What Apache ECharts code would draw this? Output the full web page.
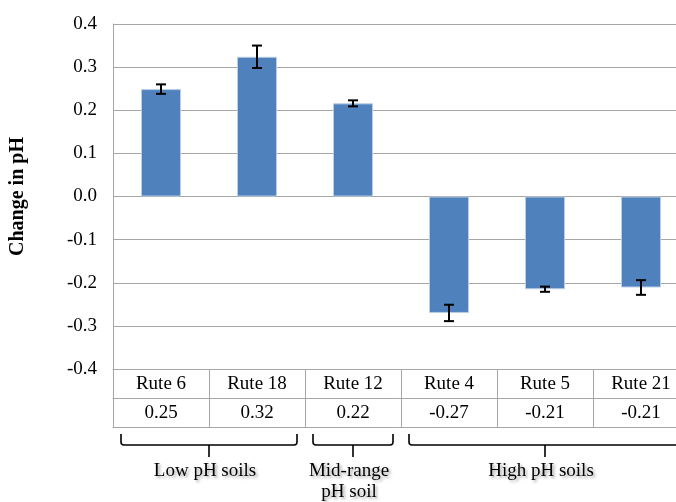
<!DOCTYPE html>
<html>
<head>
<meta charset="utf-8">
<script src="https://cdn.jsdelivr.net/npm/echarts@6/dist/echarts.min.js"></script>
<style>html,body{margin:0;padding:0;background:#fff;}#c{width:676px;height:502px;}</style>
</head>
<body>
<div id="c"></div>
<script>
var categories = ['Rute 6', 'Rute 18', 'Rute 12', 'Rute 4', 'Rute 5', 'Rute 21'];
var values = [0.249, 0.324, 0.216, -0.270, -0.215, -0.211];
var errors = [0.011, 0.026, 0.007, 0.019, 0.006, 0.017];
var tableLabels = ['0.25', '0.32', '0.22', '-0.27', '-0.21', '-0.21'];
var groups = [
  { start: 0, end: 1, name: 'Low pH soils' },
  { start: 2, end: 2, name: 'Mid-range\npH soil' },
  { start: 3, end: 5, name: 'High pH soils' }
];
var yTicks = { min: -0.4, max: 0.4, interval: 0.1 };

var SERIF = '"Liberation Serif","Times New Roman",serif';
var GRAY = '#a6a6a6';
var FS = 19;

var chart = echarts.init(document.getElementById('c'), null, { renderer: 'canvas' });

var errData = values.map(function (v, i) { return [i, v - errors[i], v + errors[i]]; });
var groupData = groups.map(function (g) { return [g.start, g.end, yTicks.min, g.name]; });

function xAxisBase(offset) {
  return {
    type: 'category',
    data: categories,
    position: 'bottom',
    offset: offset,
    boundaryGap: true,
    axisLine: { show: true, onZero: false, lineStyle: { color: GRAY, width: 1 } },
    axisTick: { show: false },
    axisLabel: { show: false },
    splitLine: { show: false }
  };
}

var ax0 = xAxisBase(0);
ax0.axisTick = { show: true, length: 58, lineStyle: { color: GRAY, width: 1 } };
ax0.axisLabel = { show: true, interval: 0, margin: 5, color: '#000', fontFamily: SERIF, fontSize: FS, lineHeight: 20 };
var ax1 = xAxisBase(29);
ax1.axisLabel = { show: true, interval: 0, margin: 5, color: '#000', fontFamily: SERIF, fontSize: FS, lineHeight: 20,
  formatter: function (v, i) { return tableLabels[i]; } };
var ax2 = xAxisBase(58);

var option = {
  animation: false,
  backgroundColor: '#fff',
  grid: { left: 113, width: 576, top: 24, bottom: 133, containLabel: false, outerBoundsMode: 'none' },
  xAxis: [ax0, ax1, ax2],
  yAxis: {
    type: 'value',
    min: yTicks.min, max: yTicks.max, interval: yTicks.interval,
    name: 'Change in pH',
    nameLocation: 'middle',
    nameGap: 85,
    nameRotate: 90,
    nameTextStyle: { fontFamily: SERIF, fontWeight: 'bold', fontSize: 20, color: '#000' },
    axisLine: { show: true, lineStyle: { color: GRAY, width: 1 } },
    axisTick: { show: false },
    axisLabel: { margin: 16, color: '#000', fontFamily: SERIF, fontSize: FS,
      formatter: function (v) { return v.toFixed(1); } },
    splitLine: { show: true, lineStyle: { color: GRAY, width: 1 } }
  },
  series: [
    {
      type: 'bar',
      xAxisIndex: 0,
      data: values,
      barWidth: 40,
      itemStyle: { color: '#4f81bd', borderColor: '#b9cde5', borderWidth: 1 }
    },
    {
      type: 'custom',
      xAxisIndex: 0,
      data: errData,
      encode: { x: 0, y: [1, 2] },
      z: 5,
      renderItem: function (params, api) {
        var x = api.coord([api.value(0), api.value(1)])[0];
        var yLo = api.coord([api.value(0), api.value(1)])[1];
        var yHi = api.coord([api.value(0), api.value(2)])[1];
        var hw = 5;
        var st = { stroke: '#000', lineWidth: 2 };
        return {
          type: 'group',
          children: [
            { type: 'line', shape: { x1: x, y1: yLo, x2: x, y2: yHi }, style: st },
            { type: 'line', shape: { x1: x - hw, y1: yLo, x2: x + hw, y2: yLo }, style: st },
            { type: 'line', shape: { x1: x - hw, y1: yHi, x2: x + hw, y2: yHi }, style: st }
          ]
        };
      }
    },
    {
      type: 'custom',
      xAxisIndex: 0,
      data: groupData,
      encode: { x: [0, 1], y: 2 },
      clip: false,
      renderItem: function (params, api) {
        var band = api.size([1, 0])[0];
        var yBase = api.coord([api.value(0), api.value(2)])[1];
        var left = api.coord([api.value(0), api.value(2)])[0] - band / 2 + 8;
        var right = api.coord([api.value(1), api.value(2)])[0] + band / 2 - 8;
        var mid = (left + right) / 2;
        var top = yBase + 65, hy = yBase + 76, bot = yBase + 88;
        var r = 3;
        var path = 'M' + left + ',' + top + ' L' + left + ',' + (hy - r) +
          ' Q' + left + ',' + hy + ' ' + (left + r) + ',' + hy +
          ' L' + (right - r) + ',' + hy +
          ' Q' + right + ',' + hy + ' ' + right + ',' + (hy - r) +
          ' L' + right + ',' + top +
          ' M' + mid + ',' + hy + ' L' + mid + ',' + bot;
        var g = groups[params.dataIndex];
        return {
          type: 'group',
          children: [
            { type: 'path', shape: { pathData: path }, style: { stroke: '#000', lineWidth: 1.6, fill: null } },
            { type: 'text', style: {
                text: g.name, x: mid - 4, y: yBase + 92,
                align: 'center', verticalAlign: 'top',
                font: FS + 'px ' + SERIF, lineHeight: 21, fill: '#000',
                textShadowColor: 'rgba(0,0,0,0.35)', textShadowBlur: 3,
                textShadowOffsetX: 2, textShadowOffsetY: 2
              } }
          ]
        };
      }
    }
  ]
};
chart.setOption(option);
</script>
</body>
</html>
